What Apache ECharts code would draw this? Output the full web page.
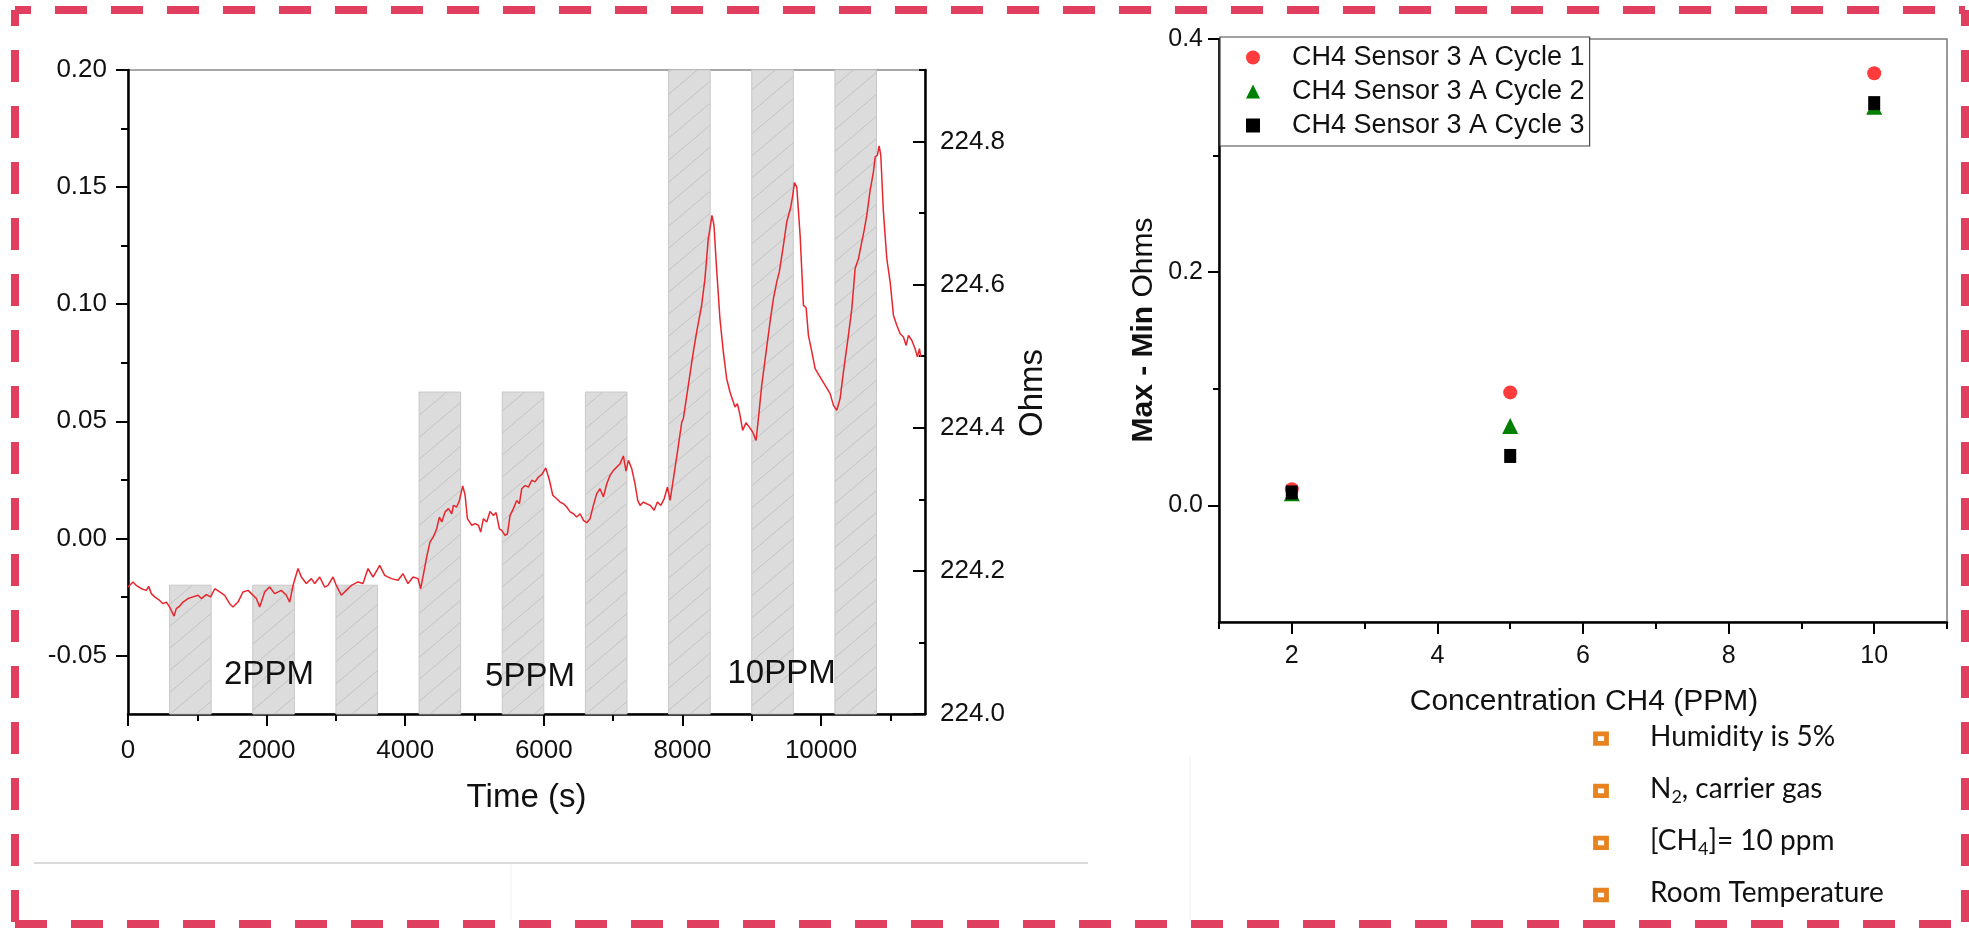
<!DOCTYPE html>
<html><head><meta charset="utf-8">
<script src="https://cdn.jsdelivr.net/npm/echarts@6/dist/echarts.min.js"></script>
<style>html,body{margin:0;padding:0;background:#fff}#c{width:1969px;height:929px}</style>
</head><body><div id="c"></div>
<script>
// ---------- data: left panel (sensor response vs time) ----------
const timeSec = [0,72,120,192,265,298,337,385,457,505,553,601,664,697,746,794,866,938,1010,1058,1130,1193,1251,1323,1395,1467,1515,1587,1659,1732,1780,1852,1900,1972,2044,2116,2213,2285,2333,2381,2453,2501,2573,2646,2694,2766,2838,2886,2958,3006,3078,3150,3223,3319,3391,3463,3535,3632,3704,3800,3896,3968,4040,4113,4185,4223,4260,
4310,4358,4406,4454,4493,4527,4575,4623,4671,4695,4743,4782,4830,4864,4897,4960,5008,5056,5089,5128,5176,5224,5273,5311,5359,5393,5441,5475,5513,5561,5609,5648,5681,5730,5778,5826,5874,5922,5970,6028,6081,6129,6186,6234,6283,6331,6379,6427,6475,6523,6571,6619,6667,6715,6763,6811,6860,6908,6956,7004,7052,7100,7148,7186,7220,7268,7316,7355,7389,7437,7485,7534,7591,7639,7688,7736,7784,7822,7870,7928,7991,
8013,8085,8157,8205,8277,8325,8373,8397,8426,8455,8493,8541,8590,8638,8686,8734,8758,8792,8821,8840,8869,8917,8965,9013,9062,9096,9144,9216,9264,9312,9361,9399,9457,9505,9563,9592,9616,9650,9698,9746,9785,9818,9867,9915,9987,10059,10131,10179,10227,10275,10323,10395,10444,10492,10540,10588,10622,10660,10708,10756,10781,10814,10838,10862,10900,10949,10997,11045,11093,11141,11189,11228,11261,11309,11357,11391,11420,11439];
const signal = [-0.0208,-0.0186,-0.0201,-0.0215,-0.0222,-0.0205,-0.0236,-0.0250,-0.0265,-0.0279,-0.0272,-0.0293,-0.0332,-0.0300,-0.0289,-0.0272,-0.0257,-0.0250,-0.0243,-0.0257,-0.0240,-0.0250,-0.0215,-0.0229,-0.0243,-0.0279,-0.0293,-0.0272,-0.0229,-0.0222,-0.0236,-0.0257,-0.0293,-0.0229,-0.0208,-0.0236,-0.0222,-0.0243,-0.0272,-0.0201,-0.0129,-0.0165,-0.0193,-0.0172,-0.0193,-0.0165,-0.0208,-0.0201,-0.0165,-0.0201,-0.0243,-0.0222,-0.0201,-0.0186,-0.0193,-0.0129,-0.0165,-0.0115,-0.0158,-0.0172,-0.0179,-0.0151,-0.0193,-0.0165,-0.0172,-0.0215,-0.0158,
-0.0079,-0.0015,0.0006,0.0041,0.0091,0.0070,0.0113,0.0127,0.0105,0.0141,0.0134,0.0162,0.0224,0.0184,0.0084,0.0056,0.0063,0.0056,0.0027,0.0084,0.0070,0.0115,0.0098,0.0110,0.0041,0.0034,0.0013,0.0019,0.0098,0.0127,0.0162,0.0148,0.0212,0.0226,0.0219,0.0248,0.0241,0.0262,0.0272,0.0301,0.0248,0.0184,0.0169,0.0155,0.0148,0.0134,0.0113,0.0105,0.0091,0.0105,0.0077,0.0067,0.0084,0.0141,0.0191,0.0212,0.0177,0.0233,0.0269,0.0290,0.0305,0.0319,0.0352,0.0287,0.0333,0.0298,0.0233,0.0162,0.0141,0.0155,0.0148,0.0141,0.0120,0.0155,0.0141,0.0169,0.0219,0.0162,0.0255,0.0369,0.0497,
0.0511,0.0653,0.0796,0.0881,0.0995,0.1109,0.1280,0.1322,0.1379,0.1337,0.1152,0.0938,0.0796,0.0682,0.0625,0.0582,0.0561,0.0575,0.0540,0.0511,0.0461,0.0494,0.0475,0.0454,0.0418,0.0511,0.0653,0.0817,0.0924,0.1023,0.1095,0.1140,0.1251,0.1351,0.1415,0.1465,0.1519,0.1500,0.1294,0.0995,0.0985,0.0867,0.0796,0.0725,0.0689,0.0653,0.0618,0.0568,0.0547,0.0597,0.0711,0.0867,0.0981,0.1152,0.1194,0.1266,0.1315,0.1379,0.1486,0.1565,0.1629,0.1636,0.1676,0.1636,0.1394,0.1194,0.1095,0.0952,0.0910,0.0874,0.0860,0.0824,0.0867,0.0846,0.0810,0.0775,0.0810,0.0775];
const exposureStart = [600,1800,3000,4200,5400,6600,7800,9000,10200];
const exposureEnd   = [1200,2400,3600,4800,6000,7200,8400,9600,10800];
const exposureTop   = [-0.02,-0.02,-0.02,0.0625,0.0625,0.0625,0.2,0.2,0.2];
const ppmLabels = ['2PPM','5PPM','10PPM'];
const ppmLabelTime = [2035,5800,9430];
const ppmLabelValue = [-0.0585,-0.0592,-0.058];
const timeTicks = [0,2000,4000,6000,8000,10000];
const timeMinorTicks = [1000,3000,5000,7000,9000,11000];
const signalTicks = [-0.05,0,0.05,0.10,0.15,0.20];
const signalMinorTicks = [-0.025,0.025,0.075,0.125,0.175];
const ohmTicks = [224.0,224.2,224.4,224.6,224.8];
const ohmMinorTicks = [224.1,224.3,224.5,224.7,224.9];
const TIME_MIN = 0, TIME_MAX = 11500, SIGNAL_MIN = -0.075, SIGNAL_MAX = 0.2, OHM_MIN = 224.0, OHM_MAX = 224.9;

// ---------- data: right panel (max-min vs concentration) ----------
const seriesNames = ['CH4 Sensor 3 A Cycle 1','CH4 Sensor 3 A Cycle 2','CH4 Sensor 3 A Cycle 3'];
const concentration = [2,5,10];
const cycle1 = [0.0138,0.0969,0.3706];
const cycle2 = [0.0105,0.0682,0.342];
const cycle3 = [0.0111,0.0424,0.345];
const concTicks = [2,4,6,8,10];
const concMinorTicks = [1,3,5,7,9,11];
const diffTicks = [0.0,0.2,0.4];
const diffMinorTicks = [0.1,0.3];
const noteLines = ['{m|Humidity is 5%}','{m|N}{s|2}{m|, carrier gas}','{m|[CH}{s|4}{m|]= 10 ppm}','{m|Room Temperature}'];

// ---------- styling helpers ----------
const FONT = "'Liberation Sans', Arial, sans-serif";
function hatch(){
  const W=26,H=22,c=document.createElement('canvas'); c.width=W; c.height=H;
  const g=c.getContext('2d'); g.fillStyle='#dcdcdc'; g.fillRect(0,0,W,H);
  g.strokeStyle='#c3c3c3'; g.lineWidth=1;
  [[0,H,W,0],[-W,H,0,0],[W,H,2*W,0],[0,2*H,W,H],[0,0,W,-H]].forEach(l=>{g.beginPath();g.moveTo(l[0],l[1]);g.lineTo(l[2],l[3]);g.stroke();});
  return {image:c, repeat:'repeat'};
}
const pattern = hatch();
function mainAxis(o){
  return Object.assign({type:'value', splitLine:{show:false}, axisLine:{show:true, onZero:false, lineStyle:{color:'#000',width:2.5}}}, o);
}
function minorAxis(o){
  return Object.assign({type:'value', splitLine:{show:false}, axisLine:{show:false, onZero:false}, axisLabel:{show:false}}, o);
}
const lab = (o)=>Object.assign({fontSize:26,color:'#111',fontFamily:FONT}, o);
const intFmt = v=>String(Math.round(v));

const chart = echarts.init(document.getElementById('c'), null, {renderer:'canvas'});
const option = {
  animation:false,
  textStyle:{fontFamily:FONT},
  grid:[
    {left:128, top:70, width:797, height:644, show:true, borderColor:'#8a8a8a', borderWidth:1.5, backgroundColor:'#fff'},
    {left:1219, top:39, width:728, height:583, show:true, borderColor:'#7a7a7a', borderWidth:1.5, backgroundColor:'#fff'}
  ],
  xAxis:[
    mainAxis({gridIndex:0, position:'bottom', min:TIME_MIN, max:TIME_MAX,
      axisTick:{show:true, customValues:timeTicks, length:12, lineStyle:{color:'#000',width:2}},
      axisLabel:lab({customValues:timeTicks, margin:24, formatter:intFmt})}),
    minorAxis({gridIndex:0, position:'bottom', min:TIME_MIN, max:TIME_MAX,
      axisTick:{show:true, customValues:timeMinorTicks, length:7, lineStyle:{color:'#000',width:2}}}),
    mainAxis({gridIndex:1, position:'bottom', min:1, max:11,
      axisTick:{show:true, customValues:concTicks, length:12, lineStyle:{color:'#000',width:2}},
      axisLabel:lab({customValues:concTicks, margin:22, formatter:intFmt, fontSize:25})}),
    minorAxis({gridIndex:1, position:'bottom', min:1, max:11,
      axisTick:{show:true, customValues:concMinorTicks, length:7, lineStyle:{color:'#000',width:2}}})
  ],
  yAxis:[
    mainAxis({gridIndex:0, position:'left', min:SIGNAL_MIN, max:SIGNAL_MAX,
      axisTick:{show:true, customValues:signalTicks, length:12, lineStyle:{color:'#000',width:2}},
      axisLabel:lab({customValues:signalTicks, margin:21, formatter:v=>v.toFixed(2)})}),
    minorAxis({gridIndex:0, position:'left', min:SIGNAL_MIN, max:SIGNAL_MAX,
      axisTick:{show:true, customValues:signalMinorTicks, length:7, lineStyle:{color:'#000',width:2}}}),
    mainAxis({gridIndex:0, position:'right', min:OHM_MIN, max:OHM_MAX,
      axisTick:{show:true, inside:true, customValues:ohmTicks, length:12, lineStyle:{color:'#000',width:2}},
      axisLabel:lab({customValues:ohmTicks, margin:15, formatter:v=>v.toFixed(1)})}),
    minorAxis({gridIndex:0, position:'right', min:OHM_MIN, max:OHM_MAX,
      axisTick:{show:true, inside:true, customValues:ohmMinorTicks, length:6, lineStyle:{color:'#000',width:2}}}),
    mainAxis({gridIndex:1, position:'left', min:-0.1, max:0.4,
      axisTick:{show:true, customValues:diffTicks, length:11, lineStyle:{color:'#000',width:2}},
      axisLabel:lab({customValues:diffTicks, margin:16, fontSize:25, formatter:v=>v.toFixed(1)})}),
    minorAxis({gridIndex:1, position:'left', min:-0.1, max:0.4,
      axisTick:{show:true, customValues:diffMinorTicks, length:6, lineStyle:{color:'#000',width:2}}})
  ],
  legend:{
    data:seriesNames, orient:'vertical', left:1220, top:37, padding:[7,5,7,26], itemGap:7,
    itemWidth:14, itemHeight:14, selectedMode:false,
    backgroundColor:'#fff', borderColor:'#444', borderWidth:1.2,
    textStyle:{fontSize:27, lineHeight:26, color:'#111', fontFamily:FONT, padding:[0,0,0,27]}
  },
  series:[
    {type:'custom', name:'exposure', xAxisIndex:0, yAxisIndex:0, z:1,
      data:exposureStart.map((s,i)=>[s, exposureEnd[i], exposureTop[i]]),
      encode:{x:[0,1], y:2},
      renderItem:(params, api)=>{
        const p0 = api.coord([api.value(0), api.value(2)]);
        const p1 = api.coord([api.value(1), SIGNAL_MIN]);
        return {type:'rect', shape:{x:p0[0], y:p0[1], width:p1[0]-p0[0], height:p1[1]-p0[1]},
          style:{fill:pattern, stroke:'#c8c8c8', lineWidth:1}};
      }},
    {type:'line', name:'signal', xAxisIndex:0, yAxisIndex:0, z:3, symbol:'none', showSymbol:false,
      data:timeSec.map((t,i)=>[t, signal[i]]), lineStyle:{color:'#e8262e', width:1.5}},
    {type:'custom', name:'ppm', xAxisIndex:0, yAxisIndex:0, z:4,
      data:ppmLabels.map((l,i)=>[ppmLabelTime[i], ppmLabelValue[i], i]),
      renderItem:(params, api)=>{
        const p = api.coord([api.value(0), api.value(1)]);
        return {type:'text', x:p[0], y:p[1], style:{text:ppmLabels[api.value(2)], fontSize:33, fontFamily:FONT, fill:'#111', align:'center', verticalAlign:'middle'}};
      }},
    {type:'scatter', name:seriesNames[0], xAxisIndex:2, yAxisIndex:4, symbol:'circle', symbolSize:14,
      itemStyle:{color:'#ff3b3b', opacity:1}, data:concentration.map((c,i)=>[c, cycle1[i]])},
    {type:'scatter', name:seriesNames[1], xAxisIndex:2, yAxisIndex:4, symbol:'triangle', symbolSize:16,
      itemStyle:{color:'#008000', opacity:1}, data:concentration.map((c,i)=>[c, cycle2[i]])},
    {type:'scatter', name:seriesNames[2], xAxisIndex:2, yAxisIndex:4, symbol:'rect', symbolSize:[12,14],
      itemStyle:{color:'#000', opacity:1}, data:concentration.map((c,i)=>[c, cycle3[i]])}
  ],
  graphic:[
    {type:'text', x:526.5, y:798, style:{text:'Time (s)', fontSize:33, fontFamily:FONT, fill:'#111', align:'center', verticalAlign:'middle'}},
    {type:'text', x:1033, y:393, rotation:Math.PI/2, style:{text:'Ohms', fontSize:33, fontFamily:FONT, fill:'#111', align:'center', verticalAlign:'middle'}},
    {type:'text', x:1584, y:702, style:{text:'Concentration CH4 (PPM)', fontSize:30, fontFamily:FONT, fill:'#111', align:'center', verticalAlign:'middle'}},
    {type:'text', x:1144, y:330, rotation:Math.PI/2, style:{text:'{b|Max - Min }{r|Ohms}', align:'center', verticalAlign:'middle',
      rich:{b:{fontSize:30, fontWeight:'bold', fontFamily:FONT, fill:'#111'}, r:{fontSize:30, fontFamily:FONT, fill:'#111'}}}},
    {type:'line', shape:{x1:34,y1:863,x2:1088,y2:863}, style:{stroke:'#cfcfcf', lineWidth:1.5}},
    {type:'line', shape:{x1:511,y1:864,x2:511,y2:920}, style:{stroke:'#f1f1f1', lineWidth:1}},
    {type:'line', shape:{x1:1190,y1:755,x2:1190,y2:920}, style:{stroke:'#f1f1f1', lineWidth:1}},
    ...noteLines.flatMap((t,i)=>{
      const cy = 738.7 + i*52.1;
      return [
        {type:'rect', shape:{x:1601-5.5, y:cy-4.75, width:11, height:9.5}, style:{fill:'#fff', stroke:'#e8821e', lineWidth:4.8}},
        {type:'text', x:1650, y:cy-2, style:{text:t, align:'left', verticalAlign:'middle',
          rich:{m:{fontSize:28, lineHeight:34, fontFamily:'Lato', fill:'#111'}, s:{fontSize:18, lineHeight:18, verticalAlign:'bottom', fontFamily:'Lato', fill:'#111'}}}}
      ];
    }),
    {type:'line', shape:{x1:15,y1:10,x2:1965,y2:10}, style:{stroke:'#e13f60', lineWidth:8, lineDash:[32,24], lineDashOffset:16}},
    {type:'line', shape:{x1:15,y1:10,x2:15,y2:924}, style:{stroke:'#e13f60', lineWidth:8, lineDash:[32,24], lineDashOffset:16}},
    {type:'line', shape:{x1:1965,y1:10,x2:1965,y2:924}, style:{stroke:'#e13f60', lineWidth:8, lineDash:[32,24], lineDashOffset:16}},
    {type:'line', shape:{x1:15,y1:924,x2:1965,y2:924}, style:{stroke:'#e13f60', lineWidth:8, lineDash:[32,24], lineDashOffset:0}}
  ]
};
chart.setOption(option);
</script></body></html>
